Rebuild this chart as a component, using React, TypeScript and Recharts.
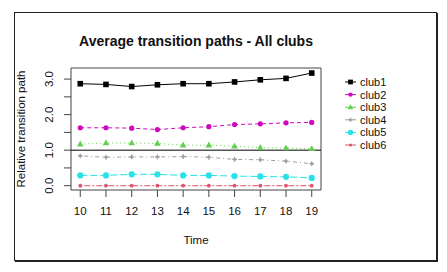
import React from "react";
import {
  LineChart,
  Line,
  XAxis,
  YAxis,
  ReferenceLine,
  ReferenceArea,
  Legend,
  Label,
} from "recharts";

const times = [10, 11, 12, 13, 14, 15, 16, 17, 18, 19];
const club1 = [2.87, 2.85, 2.79, 2.84, 2.87, 2.87, 2.92, 2.98, 3.02, 3.17];
const club2 = [1.63, 1.63, 1.62, 1.58, 1.63, 1.66, 1.72, 1.74, 1.77, 1.78];
const club3 = [1.17, 1.2, 1.2, 1.19, 1.14, 1.14, 1.11, 1.07, 1.06, 1.04];
const club4 = [0.84, 0.8, 0.81, 0.81, 0.82, 0.8, 0.74, 0.73, 0.69, 0.62];
const club5 = [0.29, 0.29, 0.32, 0.32, 0.29, 0.29, 0.27, 0.26, 0.25, 0.22];
const club6 = [0, 0, 0, 0, 0, 0, 0, 0, 0, 0];

const seriesNames = ["club1", "club2", "club3", "club4", "club5", "club6"];
const yTicks = [0, 0.5, 1, 1.5, 2, 2.5, 3];
const yLabelTicks = [0, 1, 2, 3];

const data = times.map((t, i) => ({
  t,
  club1: club1[i],
  club2: club2[i],
  club3: club3[i],
  club4: club4[i],
  club5: club5[i],
  club6: club6[i],
}));

const FONT = "'Liberation Sans', Arial, Helvetica, sans-serif";

type Style = { color: string; dash?: string; shape: string };
const styles: Record<string, Style> = {
  club1: { color: "#000000", dash: undefined, shape: "square" },
  club2: { color: "#CD0BBC", dash: "4 3", shape: "circle" },
  club3: { color: "#61D04F", dash: "1 3", shape: "triangle" },
  club4: { color: "#9E9E9E", dash: "1 3 4 3", shape: "star" },
  club5: { color: "#28E2E5", dash: "7 3", shape: "bigcircle" },
  club6: { color: "#DF536B", dash: "2 2 6 2", shape: "small" },
};

function Marker({ shape, color, cx, cy, scale = 1 }: any) {
  if (cx == null || cy == null) return null;
  const s = scale;
  switch (shape) {
    case "square":
      return <rect x={cx - 2.8 * s} y={cy - 2.8 * s} width={5.6 * s} height={5.6 * s} fill={color} />;
    case "circle":
      return <circle cx={cx} cy={cy} r={2.6 * s} fill={color} />;
    case "triangle":
      return (
        <polygon
          points={`${cx},${cy - 3.6 * s} ${cx - 3.3 * s},${cy + 2.3 * s} ${cx + 3.3 * s},${cy + 2.3 * s}`}
          fill={color}
        />
      );
    case "star":
      return (
        <g stroke={color} strokeWidth={1.3}>
          <line x1={cx - 2.4 * s} y1={cy} x2={cx + 2.4 * s} y2={cy} />
          <line x1={cx} y1={cy - 2.4 * s} x2={cx} y2={cy + 2.4 * s} />
          <circle cx={cx} cy={cy} r={1.3 * s} fill={color} stroke="none" />
        </g>
      );
    case "bigcircle":
      return <circle cx={cx} cy={cy} r={3.1 * s} fill={color} />;
    case "small":
    default:
      return <circle cx={cx} cy={cy} r={1.9 * s} fill={color} />;
  }
}

const makeDot = (name: string) => (props: any) => {
  const st = styles[name];
  return <Marker key={`${name}-${props.index}`} shape={st.shape} color={st.color} cx={props.cx} cy={props.cy} />;
};

const YTick = (props: any) => {
  const { x, y, payload } = props;
  if (!yLabelTicks.includes(payload.value)) return <g />;
  return (
    <text
      x={x}
      y={y}
      transform={`rotate(-90, ${x}, ${y})`}
      textAnchor="middle"
      dominantBaseline="central"
      fontFamily={FONT}
      fontSize={11.5}
      fill="#111"
    >
      {payload.value.toFixed(1)}
    </text>
  );
};

const LegendContent = () => (
  <svg width={90} height={80} style={{ display: "block" }}>
    {seriesNames.map((n, i) => {
      const st = styles[n];
      const cy = 7 + 12.6 * i;
      return (
        <g key={n}>
          <line x1={5} x2={16} y1={cy} y2={cy} stroke={st.color} strokeWidth={1} />
          <Marker shape={st.shape} color={st.color} cx={10.5} cy={cy} scale={0.85} />
          <text x={20} y={cy} dominantBaseline="central" fontFamily={FONT} fontSize={11} fill="#111">
            {n}
          </text>
        </g>
      );
    })}
  </svg>
);

export default function App() {
  return (
    <div style={{ position: "absolute", left: 0, top: 0, width: 447, height: 272, background: "#fff" }}>
      <div
        style={{
          position: "absolute",
          left: 14,
          top: 12,
          width: 421,
          height: 247,
          border: "1px solid #222",
          boxShadow: "1px 1px 0 #222",
        }}
      />
      <div style={{ position: "absolute", left: 0, top: 0 }}>
        <LineChart
          width={447}
          height={272}
          data={data}
          margin={{ top: 68, right: 126, bottom: 52, left: 11 }}
        >
          <text
            x={196}
            y={45.5}
            textAnchor="middle"
            fontFamily={FONT}
            fontSize={14}
            fontWeight="bold"
            fill="#111"
          >
            Average transition paths - All clubs
          </text>
          <XAxis
            dataKey="t"
            type="number"
            domain={[9.64, 19.36]}
            ticks={times}
            allowDataOverflow
            axisLine={false}
            tickLine={{ stroke: "#444" }}
            tickSize={7}
            tickMargin={10}
            tick={{ fontFamily: FONT, fontSize: 11.5, fill: "#111" }}
            interval={0}
            height={30}
          >
            <Label
              content={(p: any) => {
                const vb = p.viewBox || {};
                return (
                  <text
                    x={vb.x + vb.width / 2}
                    y={243.5}
                    textAnchor="middle"
                    fontFamily={FONT}
                    fontSize={11.5}
                    fill="#111"
                  >
                    Time
                  </text>
                );
              }}
            />
          </XAxis>
          <YAxis
            type="number"
            domain={[-0.121, 3.312]}
            ticks={yTicks}
            allowDataOverflow
            axisLine={false}
            tickLine={{ stroke: "#444" }}
            tickSize={7}
            tickMargin={15}
            tick={<YTick />}
            interval={0}
            width={60}
          >
            <Label
              content={(p: any) => {
                const vb = p.viewBox || {};
                const cy = vb.y + vb.height / 2;
                return (
                  <text
                    x={25}
                    y={cy}
                    transform={`rotate(-90, 25, ${cy})`}
                    textAnchor="middle"
                    fontFamily={FONT}
                    fontSize={11.5}
                    fill="#111"
                  >
                    Relative transition path
                  </text>
                );
              }}
            />
          </YAxis>
          <ReferenceArea
            x1={9.64}
            x2={19.36}
            y1={-0.121}
            y2={3.312}
            fill="none"
            fillOpacity={0}
            stroke="#444"
            strokeWidth={1}
          />
          <ReferenceLine y={1} stroke="#000" strokeWidth={1} />
          {seriesNames.map((n) => (
            <Line
              key={n}
              dataKey={n}
              type="linear"
              stroke={styles[n].color}
              strokeWidth={1}
              strokeDasharray={styles[n].dash}
              dot={makeDot(n)}
              activeDot={false}
              isAnimationActive={false}
            />
          ))}
          <Legend
            layout="vertical"
            align="center"
            verticalAlign="middle"
            wrapperStyle={{ left: 340, top: 75, width: 90 }}
            content={<LegendContent />}
          />
        </LineChart>
      </div>
    </div>
  );
}
